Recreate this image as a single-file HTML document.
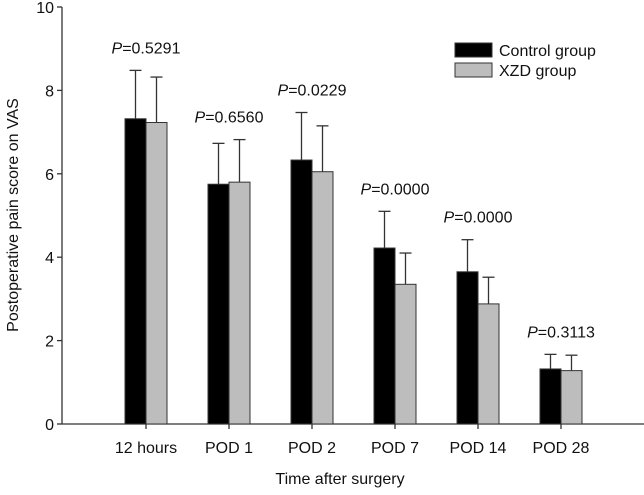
<!DOCTYPE html>
<html><head><meta charset="utf-8"><style>
body{margin:0;background:#fff}
text{font-family:"Liberation Sans",Arial,sans-serif;fill:#111}
</style></head><body>
<svg id="chart" width="644" height="490" xmlns="http://www.w3.org/2000/svg"></svg>
<script>
const categories=["12 hours","POD 1","POD 2","POD 7","POD 14","POD 28"];
const controlMean=[7.32,5.75,6.33,4.22,3.65,1.32];
const controlErr=[1.16,0.98,1.14,0.88,0.77,0.35];
const xzdMean=[7.23,5.80,6.05,3.35,2.88,1.28];
const xzdErr=[1.09,1.02,1.10,0.75,0.64,0.37];
const pValues=["0.5291","0.6560","0.0229","0.0000","0.0000","0.3113"];
const yTicks=[0,2,4,6,8,10];

const NS="http://www.w3.org/2000/svg";
const svg=document.getElementById('chart');
const x0=62,y0=424,yTop=7;
const y=v=>y0-(v/10)*(y0-yTop);
const xc=i=>146+i*83;
function el(t,a,p){const e=document.createElementNS(NS,t);for(const k in a)e.setAttribute(k,a[k]);(p||svg).appendChild(e);return e;}

let a=el('line',{x1:x0,y1:yTop,x2:x0,y2:y0,stroke:'#333','stroke-width':1.3});


a=el('line',{x1:x0,y1:y0,x2:644,y2:y0,stroke:'#333','stroke-width':1.3});


yTicks.forEach(v=>{
  const t=el('line',{x1:x0-5,y1:y(v),x2:x0,y2:y(v),stroke:'#333','stroke-width':1.3});
  
  
  const l=el('text',{x:x0-8,y:y(v)+6,'text-anchor':'end','font-size':16});
  l.textContent=v;
  
  
});
const bw=21;
categories.forEach((c,i)=>{
  const cx=xc(i);
  const t=el('line',{x1:cx,y1:y0,x2:cx,y2:y0+5,stroke:'#333','stroke-width':1.3});
  
  
  const l=el('text',{x:cx,y:453,'text-anchor':'middle','font-size':16});
  l.textContent=c;
  
  
  [[controlMean,controlErr,'#000',cx-bw,'control'],[xzdMean,xzdErr,'#bdbdbd',cx,'xzd']].forEach(([m,e,col,bx,nm])=>{
    const top=y(m[i]+e[i]);
    const ex=bx+bw/2;
    const w=el('line',{x1:ex,y1:y(m[i]),x2:ex,y2:top,stroke:'#333','stroke-width':1.3});
    
    
    const cap=el('line',{x1:ex-6,y1:top,x2:ex+6,y2:top,stroke:'#333','stroke-width':1.3});
    
    
    const r=el('rect',{x:bx,y:y(m[i]),width:bw,height:y0-y(m[i]),fill:col,stroke:'#333','stroke-width':1});
    
    
  });
  const mx=Math.max(controlMean[i]+controlErr[i],xzdMean[i]+xzdErr[i]);
  const p=el('text',{x:cx,y:y(mx)-17,'text-anchor':'middle','font-size':16});
  p.innerHTML='<tspan font-style="italic">P</tspan>=' + pValues[i];
  
  
});
const lg=el('g',{});


[['#000','Control group',43],['#bdbdbd','XZD group',63]].forEach(([c,t,yy])=>{
  const r=el('rect',{x:455,y:yy,width:37,height:14,fill:c,stroke:'#333','stroke-width':1},lg);
  
  
  const tx=el('text',{x:499,y:yy+13,'font-size':16},lg);
  tx.textContent=t;
  
  
});
const xt=el('text',{x:340,y:484,'text-anchor':'middle','font-size':16});
xt.textContent='Time after surgery';


const yt=el('text',{x:0,y:0,'text-anchor':'middle','font-size':16,transform:'translate(18,215) rotate(-90)'});
yt.textContent='Postoperative pain score on VAS';


</script>
</body></html>
